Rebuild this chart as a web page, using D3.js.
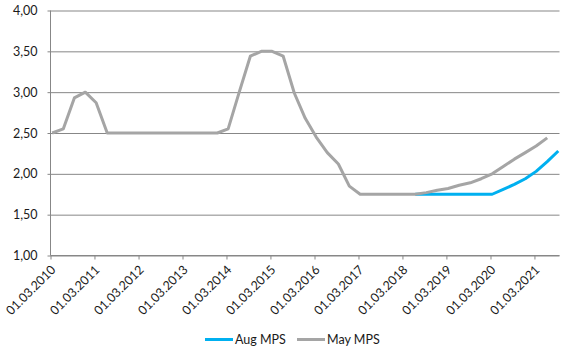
<!DOCTYPE html>
<html>
<head>
<meta charset="utf-8">
<script src="https://cdn.jsdelivr.net/npm/d3@7/dist/d3.min.js"></script>
<style>
  html, body { margin: 0; padding: 0; background: #fff; }
  svg { display: block; }
  text { font-family: Lato, "Open Sans", sans-serif; fill: #1a1a1a; }
</style>
</head>
<body>
<svg id="chart" width="574" height="350"></svg>
<script>
// quarterly observation dates (mid-month of Mar/Jun/Sep/Dec)
const dates = [
  "2010-03-15","2010-06-15","2010-09-15","2010-12-15",
  "2011-03-15","2011-06-15","2011-09-15","2011-12-15",
  "2012-03-15","2012-06-15","2012-09-15","2012-12-15",
  "2013-03-15","2013-06-15","2013-09-15","2013-12-15",
  "2014-03-15","2014-06-15","2014-09-15","2014-12-15",
  "2015-03-15","2015-06-15","2015-09-15","2015-12-15",
  "2016-03-15","2016-06-15","2016-09-15","2016-12-15",
  "2017-03-15","2017-06-15","2017-09-15","2017-12-15",
  "2018-03-15","2018-06-15","2018-09-15","2018-12-15",
  "2019-03-15","2019-06-15","2019-09-15","2019-12-15",
  "2020-03-15","2020-06-15","2020-09-15","2020-12-15",
  "2021-03-15","2021-06-15","2021-09-15"
];
// May MPS: full path
const mayMPS = [
  2.50, 2.55, 2.93, 3.00, 2.87, 2.50, 2.50, 2.50,
  2.50, 2.50, 2.50, 2.50, 2.50, 2.50, 2.50, 2.50,
  2.55, 3.00, 3.44, 3.50, 3.50, 3.44, 2.99, 2.68,
  2.45, 2.26, 2.12, 1.85, 1.75, 1.75, 1.75, 1.75,
  1.75, 1.75, 1.77, 1.80, 1.82, 1.86, 1.89, 1.94,
  2.00, 2.09, 2.18, 2.26, 2.34, 2.44
];
// Aug MPS: visible from mid-2018 (hidden under May MPS before)
const augStart = 33;
const augMPS = [1.75, 1.75, 1.75, 1.75, 1.75, 1.75, 1.75, 1.75,
  1.81, 1.87, 1.94, 2.03, 2.15, 2.28];
const seriesNames = ["Aug MPS", "May MPS"];
const seriesColors = ["#00B0F0", "#A5A5A5"];
const xTickLabels = ["01.03.2010","01.03.2011","01.03.2012","01.03.2013","01.03.2014",
  "01.03.2015","01.03.2016","01.03.2017","01.03.2018","01.03.2019","01.03.2020","01.03.2021"];
const yTicks = [1.00, 1.50, 2.00, 2.50, 3.00, 3.50, 4.00];

const parse = d3.utcParse("%Y-%m-%d");
const parseTick = d3.utcParse("%d.%m.%Y");
const svg = d3.select("#chart");

const x = d3.scaleUtc()
  .domain([parseTick("01.03.2010"), parse("2021-09-25")])
  .range([50.5, 559.5]);
const y = d3.scaleLinear().domain([1, 4]).range([255.5, 10.5]);

const gridColor = "#878787";
const fmt = v => d3.format(".2f")(v).replace(".", ",");

// horizontal gridlines + y axis
const yAxis = d3.axisLeft(y).tickValues(yTicks).tickFormat(fmt)
  .tickSize(-(559.5 - 47.5)).tickPadding(10);
const gy = svg.append("g").attr("transform", "translate(47.5,0)").call(yAxis);
gy.select(".domain").remove();
gy.selectAll(".tick line").attr("stroke", gridColor).attr("stroke-width", 1);
gy.selectAll(".tick text").attr("font-size", 12.5).attr("fill", "#1a1a1a")
  .attr("font-family", "Lato, 'Open Sans', sans-serif");

// vertical axis line
svg.append("line").attr("x1", 50.5).attr("x2", 50.5).attr("y1", y(4)).attr("y2", y(1))
  .attr("stroke", gridColor);

// x axis
const xTicks = xTickLabels.map(parseTick);
const xAxis = d3.axisBottom(x).tickValues(xTicks).tickSize(4).tickFormat("");
const gx = svg.append("g").attr("transform", `translate(0,${y(1)})`).call(xAxis);
gx.select(".domain").attr("stroke", gridColor).attr("d", `M50.5,0H559.5`);
gx.selectAll(".tick line").attr("stroke", gridColor);

svg.append("g").selectAll("text").data(xTicks).join("text")
  .attr("transform", d => `translate(${x(d) + 6},${y(1) + 15}) rotate(-45)`)
  .attr("text-anchor", "end")
  .attr("font-size", 12.5)
  .text((d, i) => xTickLabels[i]);

// lines
const line = d3.line().x(d => x(d[0])).y(d => y(d[1]));
const augPts = augMPS.map((v, j) => [parse(dates[augStart + j]), v]);
const mayPts = mayMPS.map((v, j) => [parse(dates[j]), v]);
[augPts, mayPts].forEach((pts, i) => {
  svg.append("path").datum(pts)
    .attr("fill", "none")
    .attr("stroke", seriesColors[i])
    .attr("stroke-width", 3)
    .attr("stroke-linejoin", "round")
    .attr("d", line);
});

// legend
const legendItems = [{x: 205}, {x: 297}];
legendItems.forEach((it, i) => {
  const g = svg.append("g").attr("transform", `translate(${it.x},339.5)`);
  g.append("line").attr("x1", 0).attr("x2", 28).attr("y1", 0).attr("y2", 0)
    .attr("stroke", seriesColors[i]).attr("stroke-width", 3);
  g.append("text").attr("x", 30).attr("y", 4.5).attr("font-size", 12.5).text(seriesNames[i]);
});
</script>
</body>
</html>
